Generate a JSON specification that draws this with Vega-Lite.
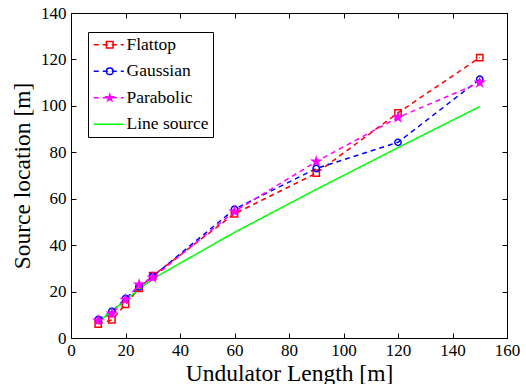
{
  "$schema": "https://vega.github.io/schema/vega-lite/v6.json",
  "width": 436,
  "height": 325,
  "autosize": "none",
  "padding": {"left": 71, "top": 13, "right": 19, "bottom": 46},
  "background": "white",
  "config": {
    "font": "Liberation Serif",
    "view": {"stroke": "black", "strokeWidth": 1},
    "axis": {
      "grid": false,
      "labelFont": "Liberation Serif",
      "labelFontSize": 17,
      "labelColor": "black",
      "titleFont": "Liberation Serif",
      "titleFontSize": 23.5,
      "titleFontWeight": "normal",
      "titleColor": "black",
      "domainColor": "black",
      "tickColor": "black",
      "tickSize": -5,
      "labelFlush": false
    },
    "legend": {"labelFont": "Liberation Serif", "labelFontSize": 17, "labelColor": "black"}
  },
  "data": {
    "values": [
      {"series": "Flattop", "x": 10, "y": 6},
      {"series": "Flattop", "x": 15, "y": 7.8},
      {"series": "Flattop", "x": 20, "y": 14.5},
      {"series": "Flattop", "x": 25, "y": 21.4},
      {"series": "Flattop", "x": 30, "y": 26.8},
      {"series": "Flattop", "x": 60, "y": 53.5},
      {"series": "Flattop", "x": 90, "y": 71},
      {"series": "Flattop", "x": 120, "y": 97},
      {"series": "Flattop", "x": 150, "y": 120.8},
      {"series": "Gaussian", "x": 10, "y": 8},
      {"series": "Gaussian", "x": 15, "y": 11.5},
      {"series": "Gaussian", "x": 20, "y": 17},
      {"series": "Gaussian", "x": 25, "y": 22},
      {"series": "Gaussian", "x": 30, "y": 26.5},
      {"series": "Gaussian", "x": 60, "y": 55.5},
      {"series": "Gaussian", "x": 90, "y": 73},
      {"series": "Gaussian", "x": 120, "y": 84.3},
      {"series": "Gaussian", "x": 150, "y": 111.5},
      {"series": "Parabolic", "x": 10, "y": 7.5},
      {"series": "Parabolic", "x": 15, "y": 10.5},
      {"series": "Parabolic", "x": 20, "y": 16.5},
      {"series": "Parabolic", "x": 25, "y": 23},
      {"series": "Parabolic", "x": 30, "y": 26},
      {"series": "Parabolic", "x": 60, "y": 54.5},
      {"series": "Parabolic", "x": 90, "y": 76},
      {"series": "Parabolic", "x": 120, "y": 95},
      {"series": "Parabolic", "x": 150, "y": 110},
      {"series": "Line source", "x": 10, "y": 7},
      {"series": "Line source", "x": 15, "y": 11.6},
      {"series": "Line source", "x": 20, "y": 16.3},
      {"series": "Line source", "x": 25, "y": 21},
      {"series": "Line source", "x": 30, "y": 25.5},
      {"series": "Line source", "x": 60, "y": 45.5},
      {"series": "Line source", "x": 90, "y": 64},
      {"series": "Line source", "x": 120, "y": 82},
      {"series": "Line source", "x": 150, "y": 99.7}
    ]
  },
  "resolve": {"axis": {"x": "independent", "y": "independent"}},
  "layer": [
    {
      "mark": {"type": "line", "strokeWidth": 1.5},
      "encoding": {
        "x": {
          "field": "x", "type": "quantitative",
          "scale": {"domain": [0, 160], "nice": false},
          "axis": {"orient": "bottom", "values": [0, 20, 40, 60, 80, 100, 120, 140, 160], "labelPadding": 9, "labelFont": "Liberation Serif", "titleFont": "Liberation Serif", "title": "Undulator Length [m]", "titlePadding": 3}
        },
        "y": {
          "field": "y", "type": "quantitative",
          "scale": {"domain": [0, 140], "nice": false},
          "axis": {"orient": "left", "values": [0, 20, 40, 60, 80, 100, 120, 140], "labelPadding": 10, "labelFont": "Liberation Serif", "titleFont": "Liberation Serif", "title": "Source location [m]", "titlePadding": 6}
        },
        "color": {
          "field": "series", "type": "nominal",
          "scale": {"domain": ["Flattop", "Gaussian", "Parabolic", "Line source"], "range": ["#ff0000", "#0000ff", "#ff00ff", "#00ff00"]},
          "legend": {
            "orient": "none", "legendX": 17, "legendY": 19, "title": null,
            "symbolType": "M-3,0L3,0", "symbolSize": 100, "symbolStrokeWidth": 1.5, "symbolOffset": 8,
            "labelFont": "Liberation Serif", "labelFontSize": 17.5, "labelColor": "black",
            "strokeColor": "black", "fillColor": "white", "padding": 4, "rowPadding": 7.5, "labelOffset": 9
          }
        },
        "strokeDash": {
          "field": "series", "type": "nominal",
          "scale": {"domain": ["Flattop", "Gaussian", "Parabolic", "Line source"], "range": [[5, 4], [5, 4], [5, 4], [1, 0]]},
          "legend": {
            "orient": "none", "legendX": 17, "legendY": 19, "title": null,
            "symbolType": "M-3,0L3,0", "symbolSize": 100, "symbolStrokeWidth": 1.5, "symbolOffset": 8,
            "labelFont": "Liberation Serif", "labelFontSize": 17.5, "labelColor": "black",
            "strokeColor": "black", "fillColor": "white", "padding": 4, "rowPadding": 7.5, "labelOffset": 9
          }
        }
      }
    },
    {
      "transform": [{"filter": "datum.series !== 'Line source'"}],
      "mark": {"type": "point", "strokeWidth": 1.5, "opacity": 1},
      "encoding": {
        "x": {"field": "x", "type": "quantitative", "axis": null},
        "y": {"field": "y", "type": "quantitative", "axis": null},
        "shape": {
          "field": "series", "type": "nominal",
          "scale": {"domain": ["Flattop", "Gaussian", "Parabolic"], "range": ["square", "circle", "M0,-1L0.225,-0.309L0.951,-0.309L0.363,0.118L0.588,0.809L0,0.382L-0.588,0.809L-0.363,0.118L-0.951,-0.309L-0.225,-0.309Z"]},
          "legend": {
            "orient": "none", "legendX": 26, "legendY": 19, "title": null,
            "labelFont": "Liberation Serif", "labelFontSize": 17.5, "labelExpr": "''",
            "padding": 4, "rowPadding": 7.5, "labelOffset": 4, "symbolSize": 45, "symbolStrokeWidth": 1.5
          }
        },
        "stroke": {
          "field": "series", "type": "nominal",
          "scale": {"domain": ["Flattop", "Gaussian", "Parabolic"], "range": ["#ff0000", "#0000ff", "#ff00ff"]},
          "legend": {
            "orient": "none", "legendX": 26, "legendY": 19, "title": null,
            "labelFont": "Liberation Serif", "labelFontSize": 17.5, "labelExpr": "''",
            "padding": 4, "rowPadding": 7.5, "labelOffset": 4, "symbolSize": 45, "symbolStrokeWidth": 1.5
          }
        },
        "fill": {
          "field": "series", "type": "nominal",
          "scale": {"domain": ["Flattop", "Gaussian", "Parabolic"], "range": ["transparent", "transparent", "#ff00ff"]},
          "legend": {
            "orient": "none", "legendX": 26, "legendY": 19, "title": null,
            "labelFont": "Liberation Serif", "labelFontSize": 17.5, "labelExpr": "''",
            "padding": 4, "rowPadding": 7.5, "labelOffset": 4, "symbolSize": 45, "symbolStrokeWidth": 1.5
          }
        },
        "size": {"condition": {"test": "datum.series === 'Parabolic'", "value": 70}, "value": 40}
      }
    },
    {
      "mark": {"type": "point", "opacity": 0},
      "encoding": {
        "x": {"field": "x", "type": "quantitative", "axis": {"orient": "top", "values": [0, 20, 40, 60, 80, 100, 120, 140, 160], "labels": false, "title": null}},
        "y": {"field": "y", "type": "quantitative", "axis": {"orient": "right", "values": [0, 20, 40, 60, 80, 100, 120, 140], "labels": false, "title": null}}
      }
    }
  ]
}
